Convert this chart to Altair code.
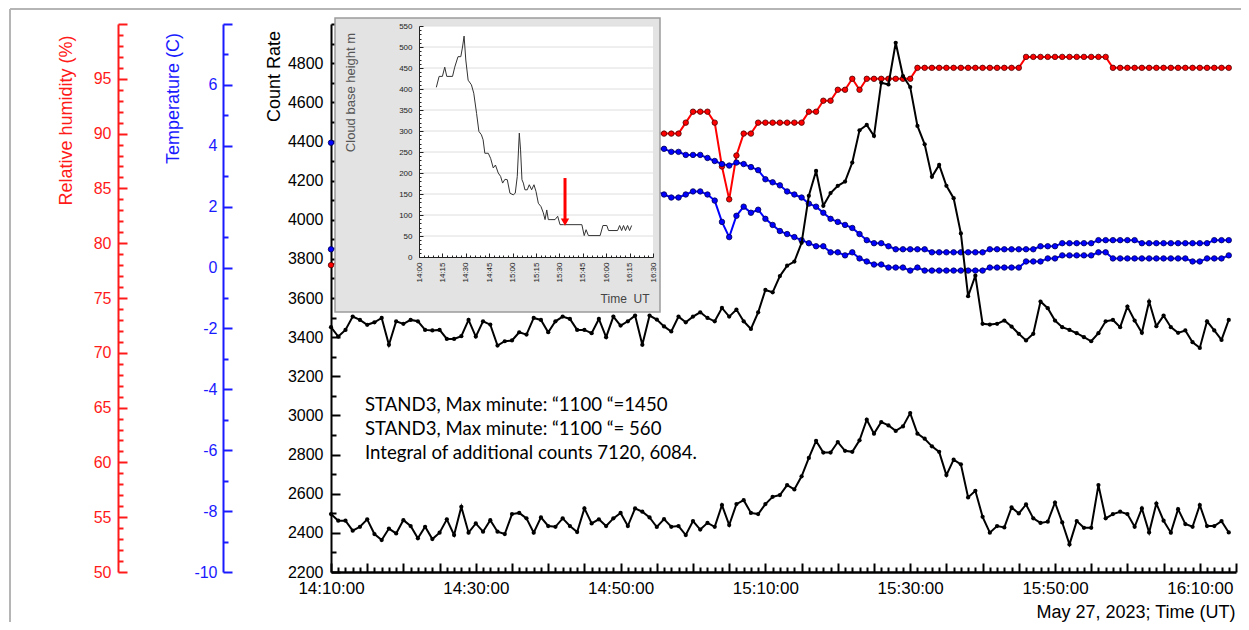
import altair as alt
import pandas as pd

# ---------------- data ----------------
# main panel: one value per minute after 14:10 UT
count_minutes = list(range(125))
count_upper = [3451, 3403, 3437, 3505, 3488, 3463, 3476, 3498, 3361, 3481,
               3468, 3488, 3481, 3437, 3434, 3437, 3391, 3391, 3405, 3488,
               3403, 3481, 3464, 3357, 3379, 3383, 3425, 3413, 3498, 3488,
               3425, 3481, 3505, 3493, 3437, 3437, 3420, 3493, 3400, 3505,
               3459, 3481, 3510, 3361, 3510, 3490, 3455, 3429, 3505, 3476,
               3505, 3527, 3498, 3481, 3549, 3505, 3541, 3481, 3442, 3527,
               3641, 3629, 3712, 3765, 3786, 3882, 4122, 4249, 4071, 4136,
               4173, 4195, 4292, 4457, 4484, 4428, 4700, 4691, 4904, 4734,
               4678, 4479, 4385, 4219, 4280, 4173, 4110, 3930, 3609, 3714,
               3468, 3464, 3468, 3485, 3454, 3417, 3383, 3417, 3582, 3548,
               3485, 3451, 3437, 3420, 3400, 3379, 3420, 3481, 3488, 3451,
               3556, 3485, 3422, 3582, 3456, 3510, 3451, 3422, 3434, 3374,
               3345, 3481, 3434, 3386, 3488]
count_lower = [2496, 2462, 2462, 2411, 2431, 2469, 2394, 2363, 2422, 2397,
               2465, 2435, 2372, 2431, 2368, 2401, 2469, 2389, 2533, 2401,
               2448, 2406, 2465, 2406, 2394, 2496, 2502, 2474, 2401, 2479,
               2435, 2431, 2474, 2435, 2404, 2525, 2448, 2469, 2435, 2474,
               2502, 2435, 2525, 2508, 2479, 2430, 2470, 2431, 2435, 2389,
               2460, 2417, 2451, 2431, 2542, 2440, 2547, 2567, 2502, 2496,
               2547, 2584, 2593, 2644, 2622, 2689, 2783, 2870, 2810, 2810,
               2864, 2819, 2814, 2873, 2978, 2907, 2966, 2949, 2921, 2944,
               3012, 2907, 2881, 2842, 2814, 2695, 2774, 2750, 2581, 2615,
               2482, 2401, 2435, 2428, 2530, 2499, 2545, 2474, 2451, 2457,
               2555, 2453, 2341, 2460, 2426, 2426, 2644, 2474, 2496, 2508,
               2496, 2431, 2525, 2402, 2550, 2462, 2401, 2521, 2445, 2431,
               2542, 2435, 2435, 2460, 2402]

# meteo series (minutes after 14:10 UT); the part 14:11-14:54 is hidden by the inset
met_minutes = [0] + list(range(45, 125))
humidity = [78,
            90, 90, 90, 90, 91, 92, 92, 92, 91, 87,
            84, 88, 90, 90, 91, 91, 91, 91, 91, 91,
            91, 92, 92, 93, 93, 94, 94, 95, 94, 95,
            95, 95, 95, 95, 95, 95, 96, 96, 96, 96,
            96, 96, 96, 96, 96, 96, 96, 96, 96, 96,
            96, 97, 97, 97, 97, 97, 97, 97, 97, 97,
            97, 97, 97, 96, 96, 96, 96, 96, 96, 96,
            96, 96, 96, 96, 96, 96, 96, 96, 96, 96]
temp_upper = [4.1,
              3.9, 3.9, 3.8, 3.8, 3.7, 3.7, 3.7, 3.6, 3.5, 3.4,
              3.35, 3.45, 3.4, 3.3, 3.2, 2.9, 2.8, 2.7, 2.5, 2.4,
              2.3, 2.1, 2.0, 1.8, 1.6, 1.5, 1.4, 1.3, 1.1, 0.9,
              0.8, 0.8, 0.7, 0.6, 0.6, 0.6, 0.6, 0.6, 0.5, 0.5,
              0.5, 0.5, 0.5, 0.5, 0.5, 0.5, 0.6, 0.6, 0.6, 0.6,
              0.6, 0.6, 0.6, 0.7, 0.7, 0.7, 0.8, 0.8, 0.8, 0.8,
              0.8, 0.9, 0.9, 0.9, 0.9, 0.9, 0.9, 0.8, 0.8, 0.8,
              0.8, 0.8, 0.8, 0.8, 0.8, 0.8, 0.8, 0.9, 0.9, 0.9]
temp_lower = [0.6,
              2.5, 2.4, 2.3, 2.3, 2.4, 2.5, 2.5, 2.4, 2.2, 1.5,
              1.0, 1.7, 2.0, 1.8, 1.9, 1.6, 1.4, 1.2, 1.1, 1.0,
              0.9, 0.8, 0.7, 0.7, 0.5, 0.5, 0.4, 0.5, 0.3, 0.2,
              0.1, 0.1, 0.0, 0.0, 0.0, -0.1, 0.0, -0.1, -0.1, -0.1,
              -0.1, -0.1, -0.1, -0.1, -0.1, -0.1, 0.0, 0.0, 0.0, 0.0,
              0.0, 0.2, 0.2, 0.2, 0.3, 0.3, 0.4, 0.4, 0.4, 0.4,
              0.4, 0.5, 0.5, 0.3, 0.3, 0.3, 0.3, 0.3, 0.3, 0.3,
              0.3, 0.3, 0.3, 0.3, 0.2, 0.2, 0.3, 0.3, 0.3, 0.4]

# inset: cloud base height (minutes after 14:00 UT)
cloud_minutes = [11.1, 12.9, 15.0, 16.5, 17.8, 21.5, 22.9, 25.0, 26.8, 27.9,
                 28.9, 30.0, 31.5, 33.6, 35.1, 36.9, 38.4, 40.0, 41.1, 42.2,
                 44.4, 45.9, 47.6, 49.0, 50.8, 52.3, 53.6, 55.1, 56.6, 58.3,
                 60.4, 61.7, 63.0, 64.3, 65.1, 66.0, 66.9, 67.9, 69.4, 70.7,
                 72.2, 73.7, 75.0, 76.5, 78.2, 79.7, 80.8, 81.9, 82.9, 84.0,
                 87.2, 88.9, 90.4, 92.6, 104.4, 105.9, 107.1, 108.6, 116.1, 117.9,
                 120.4, 121.5, 127.3, 128.6, 129.9, 131.1, 132.4, 133.7, 135.0, 136.3]
cloud_height = [404, 430, 430, 452, 430, 430, 452, 477, 477, 500,
                526, 469, 421, 410, 390, 342, 299, 291, 279, 247,
                247, 235, 212, 219, 200, 192, 176, 185, 184, 152,
                148, 152, 192, 295, 255, 184, 176, 160, 160, 172,
                160, 172, 156, 128, 120, 105, 89, 112, 89, 89,
                89, 97, 77, 77, 77, 51, 65, 51, 51, 75,
                75, 63, 63, 75, 63, 75, 63, 75, 63, 75]
arrow_minute = [93.6]
arrow_top = [188]
arrow_tip = [88]

note_lines = ["STAND3, Max minute: \u201c1100 \u201c=1450",
              "STAND3, Max minute: \u201c1100 \u201c= 560",
              "Integral of additional counts 7120, 6084."]

# ---------------- layout ----------------
W, H = 905, 548
AX = "Liberation Sans"


def cond(test, a, b):
    return {"condition": {"test": test, "value": a}, "value": b}


def y_axis(offset, values, major, label_test, color, pad, title, tx, ty):
    return alt.Axis(
        orient="right", offset=offset, values=values,
        labelExpr=f"({label_test}) ? '' + datum.value : ''",
        tickSize=cond(major, 9, 5), labelPadding=pad,
        labelAlign="right", labelBaseline="middle",
        labelFont=AX, labelFontSize=16, labelColor=color,
        labelOverlap=False, labelFlush=False, labelBound=False,
        domainColor=color, domainWidth=2, tickColor=color, tickWidth=2,
        grid=False, title=title, titleFont=AX, titleFontSize=18,
        titleFontWeight="normal", titleColor=color, titleAngle=270,
        titleAlign="center", titleBaseline="middle", titleX=tx, titleY=ty)


rh_axis = y_axis(-1118, list(range(50, 101)), "datum.value % 5 === 0",
                 "datum.value % 5 === 0 && datum.value < 100", "#ff1a1a", -16,
                 "Relative humidity (%)", -52, 96)
temp_axis = y_axis(-1013, list(range(-10, 9)), "datum.value % 2 === 0",
                   "datum.value % 2 === 0 && datum.value < 8", "#1a1aff", -15,
                   "Temperature (C)", -50, 74)
count_axis = y_axis(-W, list(range(2200, 5001, 100)), "datum.value % 200 === 0",
                    "datum.value % 200 === 0 && datum.value < 5000", "black", -17,
                    "Count Rate", -57, 52)

x_axis = alt.Axis(
    orient="top", offset=-H, values=list(range(0, 126)),
    labelExpr="datum.value % 20 === 0 ? floor((850 + datum.value) / 60) + ':' + "
              "pad('' + ((850 + datum.value) % 60), 2, '0', 'left') + ':00' : ''",
    tickSize=cond("datum.value % 5 === 0", 9, 5), labelPadding=-17,
    labelAlign="center", labelBaseline="top", labelFont=AX, labelFontSize=17,
    labelColor="black", labelOverlap=False, labelFlush=False, labelBound=False,
    domainColor="black", domainWidth=2.5, tickColor="black", tickWidth=2,
    grid=False, title="May 27, 2023; Time (UT)", titleFont=AX, titleFontSize=18,
    titleFontWeight="normal", titleColor="black", titleAngle=0,
    titleAlign="right", titleBaseline="middle", titleX=904, titleY=40)

xs = alt.Scale(domain=[0, 125], nice=False, zero=False)
rh_s = alt.Scale(domain=[50, 100], nice=False, zero=False)
temp_s = alt.Scale(domain=[-10, 8], nice=False, zero=False)
count_s = alt.Scale(domain=[2200, 5000], nice=False, zero=False)

met = pd.DataFrame({"t": met_minutes, "rh": humidity, "ta": temp_upper, "tb": temp_lower})
counts = pd.DataFrame({
    "t": count_minutes + count_minutes,
    "v": count_upper + count_lower,
    "s": ["upper"] * len(count_upper) + ["lower"] * len(count_lower)})

red_line = alt.Chart(met).mark_line(color="red", strokeWidth=2).encode(
    x=alt.X("t:Q", scale=xs, axis=None),
    y=alt.Y("rh:Q", scale=rh_s, axis=rh_axis))
red_pts = alt.Chart(met).mark_circle(size=30, color="red", stroke="#4a0000",
                                     strokeWidth=0.8, opacity=1).encode(
    x=alt.X("t:Q", scale=xs, axis=None),
    y=alt.Y("rh:Q", scale=rh_s, axis=None))

blue_base = alt.Chart(met).transform_fold(["ta", "tb"], as_=["k", "temp"])
blue_line = blue_base.mark_line(color="blue", strokeWidth=2).encode(
    x=alt.X("t:Q", scale=xs, axis=None),
    y=alt.Y("temp:Q", scale=temp_s, axis=temp_axis),
    detail="k:N")
blue_pts = blue_base.mark_circle(size=30, color="blue", stroke="#000050",
                                 strokeWidth=0.8, opacity=1).encode(
    x=alt.X("t:Q", scale=xs, axis=None),
    y=alt.Y("temp:Q", scale=temp_s, axis=None))

black_line = alt.Chart(counts).mark_line(color="black", strokeWidth=2).encode(
    x=alt.X("t:Q", scale=xs, axis=x_axis),
    y=alt.Y("v:Q", scale=count_s, axis=count_axis),
    detail="s:N")
black_pts = alt.Chart(counts).mark_circle(size=18, color="black", opacity=1).encode(
    x=alt.X("t:Q", scale=xs, axis=None),
    y=alt.Y("v:Q", scale=count_s, axis=None))

# ---------------- inset ----------------
one = pd.DataFrame({"a": [0]})
ix = alt.Scale(domain=[0, 150], range=[88, 322], nice=False, zero=False)
iy = alt.Scale(domain=[0, 550], range=[233, 2], nice=False, zero=False)

panel = alt.Chart(one).mark_rect(fill="#e3e3e3", stroke="#9c9c9c", strokeWidth=1.5).encode(
    x=alt.value(4), x2=alt.value(329), y=alt.value(-6), y2=alt.value(288))
plot_bg = alt.Chart(one).mark_rect(fill="white").encode(
    x=alt.value(88), x2=alt.value(322), y=alt.value(2), y2=alt.value(233))
grid = alt.Chart(pd.DataFrame({"g": list(range(50, 551, 50))})).mark_rule(
    color="#dedede", strokeWidth=1).encode(
    y=alt.Y("g:Q", scale=iy, axis=None), x=alt.value(88), x2=alt.value(322))

inset_x_axis = alt.Axis(
    orient="top", offset=-233, values=list(range(0, 151, 3)),
    labelExpr="datum.value % 15 === 0 ? (14 + floor(datum.value / 60)) + ':' + "
              "pad('' + (datum.value % 60), 2, '0', 'left') : ''",
    tickSize=cond("datum.value % 15 === 0", 4, 2), labelPadding=-9,
    labelAngle=270, labelAlign="right", labelBaseline="middle",
    labelFont=AX, labelFontSize=8, labelColor="#222",
    labelOverlap=False, labelFlush=False, labelBound=False,
    domainColor="#222", domainWidth=1, tickColor="#222", tickWidth=1,
    grid=False, title="Time\u00a0\u00a0UT", titleFont=AX, titleFontSize=12,
    titleFontWeight="normal", titleColor="#444", titleAngle=0,
    titleAlign="right", titleBaseline="middle", titleX=318, titleY=41, zindex=1)
inset_y_axis = alt.Axis(
    orient="right", offset=88 - W, values=list(range(0, 551, 10)),
    labelExpr="datum.value % 50 === 0 ? '' + datum.value : ''",
    tickSize=cond("datum.value % 50 === 0", 4, 2), labelPadding=-11,
    labelAlign="right", labelBaseline="middle", labelFont=AX, labelFontSize=8,
    labelColor="#222", labelOverlap=False, labelFlush=False, labelBound=False,
    domainColor="#222", domainWidth=1, tickColor="#222", tickWidth=1,
    grid=False, title="Cloud base height m", titleFont=AX, titleFontSize=13,
    titleFontWeight="normal", titleColor="#555", titleAngle=270,
    titleAlign="center", titleBaseline="middle", titleX=-69, titleY=68, zindex=1)

cloud = pd.DataFrame({"ct": cloud_minutes, "ch": cloud_height})
cloud_line = alt.Chart(cloud).mark_line(color="#333333", strokeWidth=1).encode(
    x=alt.X("ct:Q", scale=ix, axis=inset_x_axis),
    y=alt.Y("ch:Q", scale=iy, axis=inset_y_axis))

arrow = pd.DataFrame({"am": arrow_minute, "top": arrow_top, "tip": arrow_tip})
arrow_rule = alt.Chart(arrow).mark_rule(color="red", strokeWidth=3).encode(
    x=alt.X("am:Q", scale=ix, axis=None),
    y=alt.Y("top:Q", scale=iy, axis=None), y2="tip:Q")
arrow_head = alt.Chart(arrow).mark_point(shape="triangle-down", filled=True, color="red",
                                         size=70, opacity=1, yOffset=2).encode(
    x=alt.X("am:Q", scale=ix, axis=None),
    y=alt.Y("tip:Q", scale=iy, axis=None))

# ---------------- annotation & frame ----------------
notes = [alt.Chart(one).mark_text(text=line, align="left", baseline="middle",
                                  font="Lato", fontSize=18.6, color="black").encode(
    x=alt.value(34), y=alt.value(381 + 24 * i)) for i, line in enumerate(note_lines)]

frame_l = alt.Chart(one).mark_rule(color="#b5b5b5", strokeWidth=2).encode(
    x=alt.value(-321), y=alt.value(-15), y2=alt.value(H + 50))
frame_t = alt.Chart(one).mark_rule(color="#b5b5b5", strokeWidth=2).encode(
    x=alt.value(-321), x2=alt.value(W + 5), y=alt.value(-15))

chart = alt.layer(
    frame_l, frame_t,
    red_line, red_pts, blue_line, blue_pts, black_line, black_pts,
    panel, plot_bg, grid, cloud_line, arrow_rule, arrow_head,
    *notes
).resolve_scale(x="independent", y="independent").properties(
    width=W, height=H,
    autosize=alt.AutoSizeParams(type="none"),
    padding={"left": 323, "top": 16, "right": 5, "bottom": 50},
    background="white",
).configure_view(stroke=None)

chart.save("out.html", embed_options={"renderer": "svg", "actions": False})
